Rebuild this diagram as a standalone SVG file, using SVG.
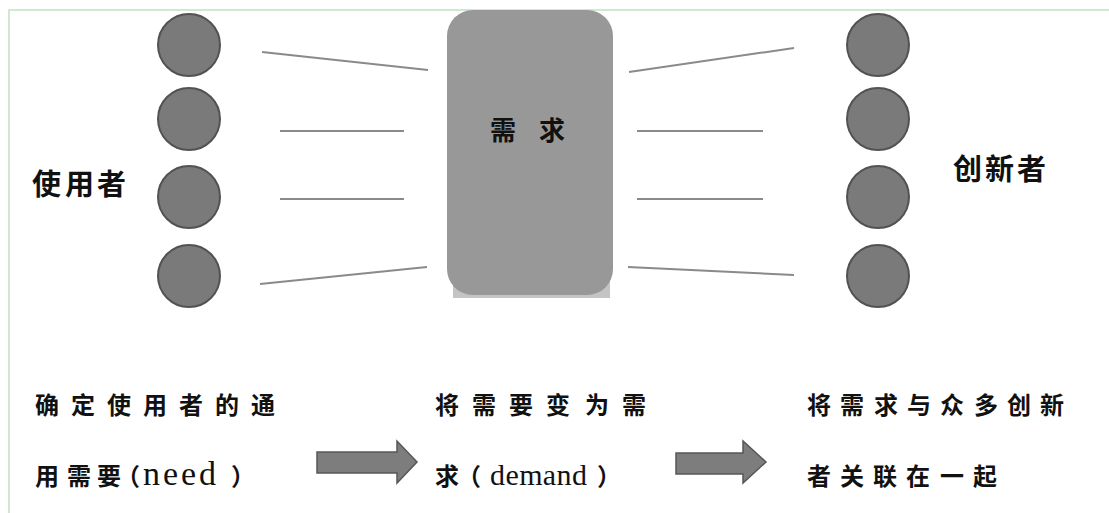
<svg xmlns="http://www.w3.org/2000/svg" width="1109" height="513" viewBox="0 0 1109 513">
<style>
.frame{stroke:#cfe8cf;stroke-width:2;fill:none}
.person{fill:#7a7a7a;stroke:#525252;stroke-width:2}
.link{stroke:#8a8a8a;stroke-width:2;fill:none}
.block{fill:#989898}
.shadow{fill:#c4c4c4}
.arrow{fill:#7d7d7d;stroke:#575757;stroke-width:1.5}
.cjk{font-family:"Noto Sans CJK SC","Noto Sans",sans-serif;fill:#111;font-weight:700}
.lat{font-family:"Liberation Serif",serif;fill:#111}
</style>
<rect width="1109" height="513" fill="#ffffff"/>
<g id="frame">
<path class="frame" d="M9,513 V10 H1109"/>
</g>
<g id="connectors">
<line class="link" x1="262" y1="52" x2="428" y2="70"/>
<line class="link" x1="280" y1="131" x2="404" y2="131"/>
<line class="link" x1="280" y1="199" x2="404" y2="199"/>
<line class="link" x1="260" y1="284" x2="427" y2="267"/>
<line class="link" x1="629" y1="72" x2="794" y2="48"/>
<line class="link" x1="637" y1="131" x2="763" y2="131"/>
<line class="link" x1="637" y1="199" x2="763" y2="199"/>
<line class="link" x1="628" y1="267" x2="794" y2="275"/>
</g>
<g id="users">
<circle class="person" cx="189" cy="45" r="31"/>
<circle class="person" cx="189" cy="119" r="31"/>
<circle class="person" cx="189" cy="197" r="31"/>
<circle class="person" cx="189" cy="276" r="31"/>
<text class="cjk" font-size="29" x="32 65 97" y="195">使用者</text>
</g>
<g id="demand">
<rect class="shadow" x="453" y="270" width="157" height="28"/>
<rect class="block" x="447" y="10" width="166" height="285" rx="26" ry="26"/>
<text class="cjk" font-size="26" x="490 539" y="140">需求</text>
</g>
<g id="innovators">
<circle class="person" cx="878" cy="45" r="31"/>
<circle class="person" cx="878" cy="119" r="31"/>
<circle class="person" cx="878" cy="197" r="31"/>
<circle class="person" cx="878" cy="276" r="31"/>
<text class="cjk" font-size="29" x="953 985 1017" y="180">创新者</text>
</g>
<g id="step1">
<text class="cjk" font-size="24" x="35 71 107 143 179 215 251" y="414">确定使用者的通</text>
<text class="cjk" font-size="24" x="35 67 97 116" y="485">用需要（</text>
<text class="lat" font-size="34" x="143" y="485" textLength="73" lengthAdjust="spacing">need</text>
<text class="cjk" font-size="24" x="231" y="485">）</text>
</g>
<g id="step2">
<text class="cjk" font-size="24" x="435 472 509 546 585 622" y="414">将需要变为需</text>
<text class="cjk" font-size="24" x="435 457" y="485">求（</text>
<text class="lat" font-size="30" x="490" y="485" textLength="97" lengthAdjust="spacing">demand</text>
<text class="cjk" font-size="24" x="597" y="485">）</text>
</g>
<g id="step3">
<text class="cjk" font-size="24" x="807 840 874 907 940 974 1007 1040" y="414">将需求与众多创新</text>
<text class="cjk" font-size="24" x="807 840 873 906 940 973" y="485">者关联在一起</text>
</g>
<g id="arrows">
<polygon class="arrow" points="317,452 397,452 397,441 417,462 397,483 397,473 317,473"/>
<polygon class="arrow" points="676,453 743,453 743,441 766,462 743,483 743,474 676,474"/>
</g>
</svg>
